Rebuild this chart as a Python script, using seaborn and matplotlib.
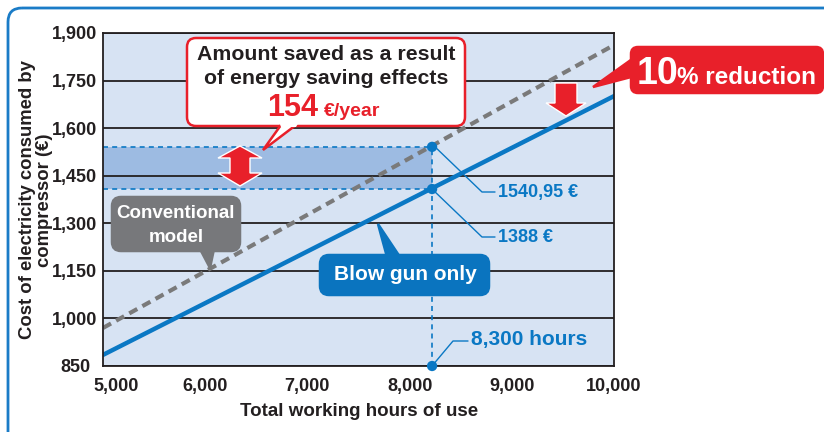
import pandas as pd
import matplotlib
matplotlib.use("Agg")
import matplotlib.pyplot as plt
from matplotlib.patches import FancyBboxPatch, Polygon
from matplotlib.transforms import Affine2D, ScaledTranslation
import seaborn as sns

# data
hours = [5000, 10000]
conventional_cost = [970, 1862]
blowgun_cost = [885, 1701]
point_hours = 8220
point_conventional = 1541
point_blowgun = 1408
x_ticks = [5000, 6000, 7000, 8000, 9000, 10000]
x_tick_labels = ['5,000', '6,000', '7,000', '8,000', '9,000', '10,000']
y_ticks = [850, 1000, 1150, 1300, 1450, 1600, 1750, 1900]
y_tick_labels = ['850', '1,000', '1,150', '1,300', '1,450', '1,600', '1,750', '1,900']
label_conventional = '1540,95 €'
label_blowgun = '1388 €'
label_hours = '8,300 hours'

sns.set_style("white")
plt.rcParams['font.family'] = ['Liberation Sans', 'DejaVu Sans']
plt.rcParams['font.weight'] = 'bold'

BLUE = '#0a78c4'
RED = '#e8202a'
GRAY = '#77787b'
INK = '#231f20'

df = pd.DataFrame({'hours': hours + hours,
                   'cost': conventional_cost + blowgun_cost,
                   'model': ['Conventional'] * 2 + ['Blow gun'] * 2})

fig = plt.figure(figsize=(8.24, 4.32), dpi=100)
W, H = 824, 432
px = Affine2D().scale(1 / W, -1 / H).translate(0, 1) + fig.transFigure

ax = fig.add_axes([103 / W, 1 - 366 / H, 511 / W, 333 / H])
ax.set_facecolor('#d7e3f3')
ax.set_axisbelow('line')

# saving band
ax.fill_between([hours[0], point_hours], point_blowgun, point_conventional,
                color='#9dbbe2', zorder=1, lw=0)
ax.hlines([point_conventional, point_blowgun], hours[0], point_hours,
          colors=BLUE, linestyles=(0, (3, 2.5)), lw=1.2, zorder=1.6)
ax.vlines(point_hours, y_ticks[0], point_conventional,
          colors=BLUE, linestyles=(0, (3, 2.5)), lw=1.2, zorder=1.6)

sns.lineplot(data=df[df.model == 'Conventional'], x='hours', y='cost', ax=ax,
             color='#7a7a7a', lw=3, zorder=2)
ax.lines[-1].set_dashes((2.2, 1.4))
sns.lineplot(data=df[df.model == 'Blow gun'], x='hours', y='cost', ax=ax,
             color=BLUE, lw=3.2, zorder=2.2)
sns.scatterplot(x=[point_hours] * 3, y=[point_conventional, point_blowgun, y_ticks[0]],
                ax=ax, color=BLUE, s=55, edgecolor='none', zorder=4, clip_on=False)

ax.set_xlim(hours[0], hours[1])
ax.set_ylim(y_ticks[0], y_ticks[-1])
ax.set_xticks(x_ticks)
ax.set_xticklabels(x_tick_labels)
ax.set_yticks(y_ticks)
ax.set_yticklabels(y_tick_labels)
ax.yaxis.grid(True, color=INK, lw=1.3)
ax.tick_params(axis='x', direction='in', length=7, width=1.2, color='#8a8a8a',
               labelsize=13, labelcolor=INK, pad=9)
ax.tick_params(axis='y', direction='out', length=3, width=1.2, color=INK,
               labelsize=13, labelcolor=INK, pad=1)
# corner labels nudged apart as in the reference
xl0 = ax.get_xticklabels()[0]
xl0.set_transform(xl0.get_transform() + ScaledTranslation(0.13, 0, fig.dpi_scale_trans))
yl0 = ax.get_yticklabels()[0]
yl0.set_transform(yl0.get_transform() + ScaledTranslation(-0.07, 0, fig.dpi_scale_trans))
for s in ax.spines.values():
    s.set_color(INK)
    s.set_linewidth(1.3)
ax.set_xlabel('')
ax.set_ylabel('')
fig.text(359, 411, 'Total working hours of use', transform=px, ha='center', va='center',
         fontsize=13.5, fontweight='bold', color=INK)
fig.text(36, 200, 'Cost of electricity consumed by\ncompressor (€)', transform=px,
         ha='center', va='center', rotation=90, fontsize=13.3, fontweight='bold',
         color=INK, linespacing=1.05)

# outer frame
fig.add_artist(FancyBboxPatch((8, 8), 840, 440, boxstyle='round,pad=0,rounding_size=14',
                              transform=px, fc='none', ec='#1a7cc7', lw=2, clip_on=False))


def box(x0, y0, x1, y1, fc, ec, tail, r=9, lw=1.8, z=5, cover=None):
    fig.add_artist(FancyBboxPatch((x0, y0), x1 - x0, y1 - y0,
                                  boxstyle=f'round,pad=0,rounding_size={r}',
                                  transform=px, fc=fc, ec=ec, lw=lw, zorder=z))
    fig.add_artist(Polygon(tail, closed=True, transform=px, fc=fc, ec=ec, lw=lw, zorder=z))
    if cover is not None:
        fig.add_artist(Polygon(cover, closed=True, transform=px, fc=fc, ec='none', zorder=z + 0.1))


# callout: amount saved
box(187, 38, 465, 126, 'white', RED,
    [(281, 125), (263, 150), (296, 125)], cover=[(279, 122), (281, 127), (296, 127), (299, 122)])
fig.text(326, 54, 'Amount saved as a result', transform=px, ha='center', va='center',
         fontsize=15.3, color=INK, zorder=6)
fig.text(326, 78, 'of energy saving effects', transform=px, ha='center', va='center',
         fontsize=15.3, color=INK, zorder=6)
fig.text(318, 116, '154', transform=px, ha='right', va='baseline', fontsize=22, color=RED, zorder=6)
fig.text(324, 116, '€/year', transform=px, ha='left', va='baseline', fontsize=14, color=RED, zorder=6)

# callout: 10% reduction
box(631, 47, 823, 93, RED, RED, [(635, 57), (593, 87), (635, 76)], r=7)
fig.text(637, 84, '10', transform=px, ha='left', va='baseline', fontsize=27, color='white', zorder=6)
fig.text(677, 84, '% reduction', transform=px, ha='left', va='baseline', fontsize=17.5,
         color='white', zorder=6)

# callout: conventional model
box(112, 197, 240, 251, GRAY, GRAY, [(200, 249), (210, 268), (214, 249)], r=9)
fig.text(176, 213, 'Conventional', transform=px, ha='center', va='center', fontsize=13.5,
         color='white', zorder=6)
fig.text(176, 237, 'model', transform=px, ha='center', va='center', fontsize=13.5,
         color='white', zorder=6)

# callout: blow gun only
box(320, 255, 489, 295, '#0a74bf', '#0a74bf', [(378, 224), (387, 257), (400, 257)], r=9)
fig.text(405, 275, 'Blow gun only', transform=px, ha='center', va='center', fontsize=15,
         color='white', zorder=6)

# arrows
fig.add_artist(Polygon([(240, 146), (262, 158), (250, 158), (250, 173), (262, 173), (240, 186),
                        (218, 173), (230, 173), (230, 158), (218, 158)], closed=True,
                       transform=px, fc=RED, ec='white', lw=1, zorder=5))
fig.add_artist(Polygon([(555, 83), (577, 83), (577, 103), (586, 103), (566, 116), (546, 103),
                        (555, 103)], closed=True, transform=px, fc=RED, ec='white', lw=1, zorder=5))

# leader labels
lead = dict(transform=px, color=BLUE, lw=1, zorder=4)
fig.add_artist(plt.Line2D([432, 482, 495], [144, 192, 192], **lead))
fig.add_artist(plt.Line2D([432, 482, 495], [189, 237, 237], **lead))
fig.add_artist(plt.Line2D([432, 453, 468], [366, 341, 341], **lead))
fig.text(498, 193, label_conventional, transform=px, ha='left', va='center', fontsize=13,
         color=BLUE)
fig.text(498, 238, label_blowgun, transform=px, ha='left', va='center', fontsize=13,
         color=BLUE)
fig.text(471, 340, label_hours, transform=px, ha='left', va='center', fontsize=15,
         color=BLUE)

fig.savefig('out.png', dpi=100)
